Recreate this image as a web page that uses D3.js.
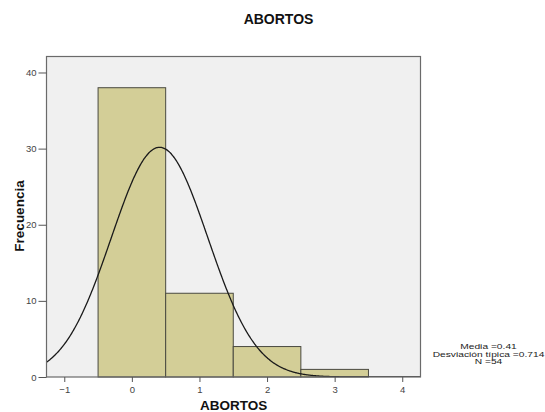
<!DOCTYPE html>
<html><head><meta charset="utf-8">
<script src="https://cdn.jsdelivr.net/npm/d3@7"></script>
<style>body{margin:0;background:#fff}svg{display:block}text{font-family:"Liberation Sans",Arial,sans-serif}</style>
</head><body>
<svg id="c" width="545" height="412"></svg>
<script>
const binCenters = [0, 1, 2, 3];
const counts = [38, 11, 4, 1];
const binWidth = 1;
const mean = 0.41, sd = 0.714, n = 54;
const xTicks = [-1, 0, 1, 2, 3, 4];
const yTicks = [0, 10, 20, 30, 40];
const statsLines = ["Media =0.41", "Desviación típica =0.714", "N =54"];

const svg = d3.select("#c");
const L = 46.5, R = 420.5, T = 56.5, B = 377;
const x = d3.scaleLinear().domain([-1.263, 4.27]).range([L, R]);
const y = d3.scaleLinear().domain([0, 42.1]).range([B, T]);

svg.append("rect").attr("x", L).attr("y", T).attr("width", R - L).attr("height", B - T)
  .attr("fill", "#f0f0f0");

svg.append("defs").append("clipPath").attr("id", "clip").append("rect")
  .attr("x", L).attr("y", T).attr("width", R - L).attr("height", B - T);

svg.append("g").selectAll("rect").data(binCenters).join("rect")
  .attr("x", (d) => x(d - binWidth / 2))
  .attr("width", (d) => x(d + binWidth / 2) - x(d - binWidth / 2))
  .attr("y", (d, i) => y(counts[i]))
  .attr("height", (d, i) => y(0) - y(counts[i]))
  .attr("fill", "#d3ce97").attr("stroke", "#4a4a40").attr("stroke-width", 1);

const xs = d3.range(-1.263, 4.27, 0.01);
const pdf = (v) => n * binWidth * Math.exp(-0.5 * ((v - mean) / sd) ** 2) / (sd * Math.sqrt(2 * Math.PI));
svg.append("path").attr("clip-path", "url(#clip)")
  .datum(xs)
  .attr("d", d3.line().x((d) => x(d)).y((d) => y(pdf(d))).curve(d3.curveBasis))
  .attr("fill", "none").attr("stroke", "#1a1a1a").attr("stroke-width", 1.3);

svg.append("rect").attr("x", L).attr("y", T).attr("width", R - L).attr("height", B - T)
  .attr("fill", "none").attr("stroke", "#6a6a6a").attr("stroke-width", 1.2);

const yAxis = d3.axisLeft(y).tickValues(yTicks).tickFormat(d3.format("d")).tickSize(8).tickSizeOuter(0).tickPadding(2);
const gy = svg.append("g").attr("transform", `translate(${L},0)`).call(yAxis);
gy.select(".domain").remove();
gy.selectAll("line").attr("stroke", "#555");
gy.selectAll("text").attr("font-size", "9.5px").attr("fill", "#444").attr("font-family", "Liberation Sans, Arial, sans-serif");

const xAxis = d3.axisBottom(x).tickValues(xTicks).tickFormat(d3.format("d")).tickSize(5).tickSizeOuter(0).tickPadding(4);
const gx = svg.append("g").attr("transform", `translate(0,${B})`).call(xAxis);
gx.select(".domain").remove();
gx.selectAll("line").attr("stroke", "#555");
gx.selectAll("text").attr("font-size", "9.5px").attr("fill", "#444").attr("font-family", "Liberation Sans, Arial, sans-serif");

svg.append("text").attr("x", 278.5).attr("y", 24).attr("text-anchor", "middle")
  .attr("font-size", "14px").attr("font-weight", "bold").attr("fill", "#111").text("ABORTOS");
svg.append("text").attr("x", 233.7).attr("y", 410).attr("text-anchor", "middle")
  .attr("font-size", "13.5px").attr("font-weight", "bold").attr("fill", "#111").text("ABORTOS");
svg.append("text").attr("transform", "translate(24,216) rotate(-90)").attr("text-anchor", "middle")
  .attr("font-size", "13.5px").attr("font-weight", "bold").attr("fill", "#111").text("Frecuencia");

const st = svg.append("g").attr("transform", "translate(488.5,0) scale(1.28,1)");
st.selectAll("text").data(statsLines).join("text")
  .attr("x", 0).attr("y", (d, i) => 349 + i * 7.7)
  .attr("text-anchor", "middle").attr("font-size", "8px").attr("fill", "#222").text((d) => d);
</script>
</body></html>
